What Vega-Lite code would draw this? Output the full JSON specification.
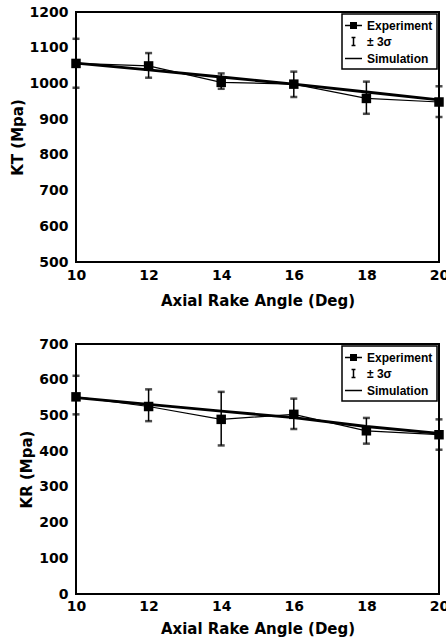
{
  "$schema": "https://vega.github.io/schema/vega-lite/v6.json",
  "background": "white",
  "padding": {"left": 9, "top": 4, "right": 0, "bottom": 0},
  "spacing": 27,
  "columns": 1,
  "datasets": {
    "kt": [
      {"angle": 10, "series": "Experiment", "value": 1056},
      {"angle": 12, "series": "Experiment", "value": 1049},
      {"angle": 14, "series": "Experiment", "value": 1003},
      {"angle": 16, "series": "Experiment", "value": 998},
      {"angle": 18, "series": "Experiment", "value": 958},
      {"angle": 20, "series": "Experiment", "value": 948},
      {"angle": 10, "series": "Simulation", "value": 1057},
      {"angle": 12, "series": "Simulation", "value": 1038},
      {"angle": 14, "series": "Simulation", "value": 1018},
      {"angle": 16, "series": "Simulation", "value": 998},
      {"angle": 18, "series": "Simulation", "value": 976},
      {"angle": 20, "series": "Simulation", "value": 954},
      {"angle": 10, "series": "± 3σ", "value": 1056, "lo": 988, "hi": 1125},
      {"angle": 12, "series": "± 3σ", "value": 1049, "lo": 1016, "hi": 1085},
      {"angle": 14, "series": "± 3σ", "value": 1003, "lo": 985, "hi": 1028},
      {"angle": 16, "series": "± 3σ", "value": 998, "lo": 962, "hi": 1033},
      {"angle": 18, "series": "± 3σ", "value": 958, "lo": 915, "hi": 1005},
      {"angle": 20, "series": "± 3σ", "value": 948, "lo": 906, "hi": 992}
    ],
    "kr": [
      {"angle": 10, "series": "Experiment", "value": 552},
      {"angle": 12, "series": "Experiment", "value": 525},
      {"angle": 14, "series": "Experiment", "value": 489},
      {"angle": 16, "series": "Experiment", "value": 503},
      {"angle": 18, "series": "Experiment", "value": 457},
      {"angle": 20, "series": "Experiment", "value": 446},
      {"angle": 10, "series": "Simulation", "value": 550},
      {"angle": 12, "series": "Simulation", "value": 531},
      {"angle": 14, "series": "Simulation", "value": 512},
      {"angle": 16, "series": "Simulation", "value": 494},
      {"angle": 18, "series": "Simulation", "value": 469},
      {"angle": 20, "series": "Simulation", "value": 450},
      {"angle": 10, "series": "± 3σ", "value": 552, "lo": 503, "hi": 611},
      {"angle": 12, "series": "± 3σ", "value": 525, "lo": 484, "hi": 573},
      {"angle": 14, "series": "± 3σ", "value": 489, "lo": 416, "hi": 566},
      {"angle": 16, "series": "± 3σ", "value": 503, "lo": 462, "hi": 547},
      {"angle": 18, "series": "± 3σ", "value": 457, "lo": 421, "hi": 493},
      {"angle": 20, "series": "± 3σ", "value": 446, "lo": 404, "hi": 489}
    ]
  },
  "config": {
    "font": "Liberation Sans",
    "view": {"stroke": "black", "strokeWidth": 2},
    "axis": {
      "grid": false,
      "domain": false,
      "ticks": false,
      "labelFont": "DejaVu Sans",
      "labelFontWeight": "bold",
      "labelFontSize": 14,
      "labelColor": "black",
      "titleFont": "DejaVu Sans",
      "titleFontSize": 15,
      "titleFontWeight": "bold",
      "titleColor": "black",
      "labelBound": false,
      "labelFlush": false,
      "labelOverlap": false
    },
    "legend": {
      "orient": "top-right",
      "offset": 2,
      "title": null,
      "strokeColor": "black",
      "strokeWidth": 1.5,
      "fillColor": "white",
      "padding": 4,
      "rowPadding": 2,
      "labelFont": "Liberation Sans",
      "labelFontWeight": "bold",
      "labelFontSize": 12,
      "labelColor": "black",
      "labelOffset": 6,
      "symbolSize": 170
    }
  },
  "concat": [
    {
      "width": 363,
      "height": 250,
      "data": {"name": "kt"},
      "encoding": {
        "x": {"field": "angle", "type": "quantitative", "scale": {"domain": [10, 20], "nice": false}, "axis": {"values": [10, 12, 14, 16, 18, 20], "title": "Axial Rake Angle (Deg)", "labelPadding": 6, "titlePadding": 11, "labelOverlap": false}}
      },
      "layer": [
        {
          "transform": [{"filter": "datum.series === '± 3σ'"}],
          "mark": {"type": "rule", "color": "black", "strokeWidth": 1.5},
          "encoding": {
            "y": {"field": "lo", "type": "quantitative", "scale": {"domain": [500, 1200], "nice": false, "zero": false}, "axis": {"values": [500, 600, 700, 800, 900, 1000, 1100, 1200], "format": "d", "title": "KT (Mpa)", "labelPadding": 8, "titlePadding": 4, "labelOverlap": false}},
            "y2": {"field": "hi"}
          }
        },
        {
          "transform": [{"filter": "datum.series === '± 3σ'"}],
          "mark": {"type": "tick", "orient": "horizontal", "color": "black", "size": 7, "thickness": 2.5},
          "encoding": {"y": {"field": "lo", "type": "quantitative", "axis": {"values": [500, 600, 700, 800, 900, 1000, 1100, 1200], "format": "d", "title": "KT (Mpa)", "labelPadding": 8, "titlePadding": 4, "labelOverlap": false}}}
        },
        {
          "transform": [{"filter": "datum.series === '± 3σ'"}],
          "mark": {"type": "tick", "orient": "horizontal", "color": "black", "size": 7, "thickness": 2.5},
          "encoding": {"y": {"field": "hi", "type": "quantitative", "axis": {"values": [500, 600, 700, 800, 900, 1000, 1100, 1200], "format": "d", "title": "KT (Mpa)", "labelPadding": 8, "titlePadding": 4, "labelOverlap": false}}}
        },
        {
          "transform": [{"filter": "datum.series === 'Experiment'"}],
          "mark": {"type": "line", "color": "black", "strokeWidth": 1.2},
          "encoding": {"y": {"field": "value", "type": "quantitative", "axis": {"values": [500, 600, 700, 800, 900, 1000, 1100, 1200], "format": "d", "title": "KT (Mpa)", "labelPadding": 8, "titlePadding": 4, "labelOverlap": false}}}
        },
        {
          "transform": [{"filter": "datum.series === 'Simulation'"}],
          "mark": {"type": "line", "color": "black", "strokeWidth": 2.8},
          "encoding": {"y": {"field": "value", "type": "quantitative", "axis": {"values": [500, 600, 700, 800, 900, 1000, 1100, 1200], "format": "d", "title": "KT (Mpa)", "labelPadding": 8, "titlePadding": 4, "labelOverlap": false}}}
        },
        {
          "transform": [{"filter": "datum.series === 'Experiment'"}],
          "mark": {"type": "point", "shape": "square", "filled": true, "color": "black", "size": 90, "opacity": 1},
          "encoding": {"y": {"field": "value", "type": "quantitative", "axis": {"values": [500, 600, 700, 800, 900, 1000, 1100, 1200], "format": "d", "title": "KT (Mpa)", "labelPadding": 8, "titlePadding": 4, "labelOverlap": false}}}
        },
        {
          "mark": {"type": "point", "opacity": 0, "filled": false, "color": "black"},
          "encoding": {
            "y": {"field": "value", "type": "quantitative", "axis": {"values": [500, 600, 700, 800, 900, 1000, 1100, 1200], "format": "d", "title": "KT (Mpa)", "labelPadding": 8, "titlePadding": 4, "labelOverlap": false}},
            "shape": {
              "field": "series", "type": "nominal",
              "scale": {"domain": ["Experiment", "± 3σ", "Simulation"], "range": ["M-1.3,0H1.3M-0.42,-0.42H0.42V0.42H-0.42ZM-0.42,-0.2H0.42M-0.42,0.2H0.42", "M-0.3,-0.6H0.3M0,-0.6V0.6M-0.3,0.6H0.3", "M-1.3,0H1.3"]},
              "legend": {"encode": {"symbols": {"update": {"opacity": {"value": 1}, "stroke": {"value": "black"}, "strokeWidth": {"value": 1.8}, "strokeOpacity": {"value": 1}}}}}
            }
          }
        }
      ]
    },
    {
      "width": 363,
      "height": 250,
      "data": {"name": "kr"},
      "encoding": {
        "x": {"field": "angle", "type": "quantitative", "scale": {"domain": [10, 20], "nice": false}, "axis": {"values": [10, 12, 14, 16, 18, 20], "title": "Axial Rake Angle (Deg)", "labelPadding": 5, "titlePadding": 8, "labelOverlap": false}}
      },
      "layer": [
        {
          "transform": [{"filter": "datum.series === '± 3σ'"}],
          "mark": {"type": "rule", "color": "black", "strokeWidth": 1.5},
          "encoding": {
            "y": {"field": "lo", "type": "quantitative", "scale": {"domain": [0, 700], "nice": false}, "axis": {"values": [0, 100, 200, 300, 400, 500, 600, 700], "format": "d", "title": "KR (Mpa)", "labelPadding": 8, "titlePadding": 4, "labelOverlap": false}},
            "y2": {"field": "hi"}
          }
        },
        {
          "transform": [{"filter": "datum.series === '± 3σ'"}],
          "mark": {"type": "tick", "orient": "horizontal", "color": "black", "size": 7, "thickness": 2.5},
          "encoding": {"y": {"field": "lo", "type": "quantitative", "axis": {"values": [0, 100, 200, 300, 400, 500, 600, 700], "format": "d", "title": "KR (Mpa)", "labelPadding": 8, "titlePadding": 4, "labelOverlap": false}}}
        },
        {
          "transform": [{"filter": "datum.series === '± 3σ'"}],
          "mark": {"type": "tick", "orient": "horizontal", "color": "black", "size": 7, "thickness": 2.5},
          "encoding": {"y": {"field": "hi", "type": "quantitative", "axis": {"values": [0, 100, 200, 300, 400, 500, 600, 700], "format": "d", "title": "KR (Mpa)", "labelPadding": 8, "titlePadding": 4, "labelOverlap": false}}}
        },
        {
          "transform": [{"filter": "datum.series === 'Experiment'"}],
          "mark": {"type": "line", "color": "black", "strokeWidth": 1.2},
          "encoding": {"y": {"field": "value", "type": "quantitative", "axis": {"values": [0, 100, 200, 300, 400, 500, 600, 700], "format": "d", "title": "KR (Mpa)", "labelPadding": 8, "titlePadding": 4, "labelOverlap": false}}}
        },
        {
          "transform": [{"filter": "datum.series === 'Simulation'"}],
          "mark": {"type": "line", "color": "black", "strokeWidth": 2.8},
          "encoding": {"y": {"field": "value", "type": "quantitative", "axis": {"values": [0, 100, 200, 300, 400, 500, 600, 700], "format": "d", "title": "KR (Mpa)", "labelPadding": 8, "titlePadding": 4, "labelOverlap": false}}}
        },
        {
          "transform": [{"filter": "datum.series === 'Experiment'"}],
          "mark": {"type": "point", "shape": "square", "filled": true, "color": "black", "size": 90, "opacity": 1},
          "encoding": {"y": {"field": "value", "type": "quantitative", "axis": {"values": [0, 100, 200, 300, 400, 500, 600, 700], "format": "d", "title": "KR (Mpa)", "labelPadding": 8, "titlePadding": 4, "labelOverlap": false}}}
        },
        {
          "mark": {"type": "point", "opacity": 0, "filled": false, "color": "black"},
          "encoding": {
            "y": {"field": "value", "type": "quantitative", "axis": {"values": [0, 100, 200, 300, 400, 500, 600, 700], "format": "d", "title": "KR (Mpa)", "labelPadding": 8, "titlePadding": 4, "labelOverlap": false}},
            "shape": {
              "field": "series", "type": "nominal",
              "scale": {"domain": ["Experiment", "± 3σ", "Simulation"], "range": ["M-1.3,0H1.3M-0.42,-0.42H0.42V0.42H-0.42ZM-0.42,-0.2H0.42M-0.42,0.2H0.42", "M-0.3,-0.6H0.3M0,-0.6V0.6M-0.3,0.6H0.3", "M-1.3,0H1.3"]},
              "legend": {"encode": {"symbols": {"update": {"opacity": {"value": 1}, "stroke": {"value": "black"}, "strokeWidth": {"value": 1.8}, "strokeOpacity": {"value": 1}}}}}
            }
          }
        }
      ]
    }
  ],
  "resolve": {"scale": {"shape": "independent"}, "legend": {"shape": "independent"}}
}
